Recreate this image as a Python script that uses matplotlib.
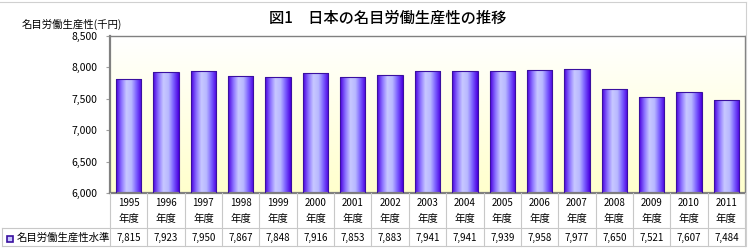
import numpy as np
import matplotlib
matplotlib.use('Agg')
import matplotlib.pyplot as plt
import matplotlib.transforms as mtransforms
from matplotlib.colors import LinearSegmentedColormap
from matplotlib.lines import Line2D
from matplotlib.patches import Rectangle

plt.rcParams['font.family'] = ['Noto Sans CJK JP', 'DejaVu Sans']

years = ['1995', '1996', '1997', '1998', '1999', '2000', '2001', '2002', '2003',
         '2004', '2005', '2006', '2007', '2008', '2009', '2010', '2011']
values = [7815, 7923, 7950, 7867, 7848, 7916, 7853, 7883, 7941,
          7941, 7939, 7958, 7977, 7650, 7521, 7607, 7484]
series_name = '名目労働生産性水準'
title = '図1　日本の名目労働生産性の推移'
ylabel = '名目労働生産性(千円)'
yticks = [6000, 6500, 7000, 7500, 8000, 8500]

W, H = 749, 252
fig = plt.figure(figsize=(W / 100, H / 100), dpi=100)

def fx(px):
    return px / W

def fy(py):
    return 1 - py / H

ax_l, ax_r, ax_t, ax_b = 110, 745, 36, 193
ax = fig.add_axes([fx(ax_l), fy(ax_b), fx(ax_r - ax_l), (ax_b - ax_t) / H])

n = len(years)
x = np.arange(n)

# background gradient (white -> pale yellow)
bg = LinearSegmentedColormap.from_list('bg', ['#ffffcc', '#ffffff'])
ax.imshow(np.linspace(0, 1, 100).reshape(-1, 1), cmap=bg, aspect='auto',
          extent=[0, 1, 0, 1], transform=ax.transAxes, origin='lower', zorder=0)

# bars with cylinder gradient
cyl = LinearSegmentedColormap.from_list(
    'cyl', ['#4a00e0', '#8a70ff', '#c8c8ff', '#b8b8ff', '#7a5cff', '#4a00e0'])
grad = np.linspace(0, 1, 64).reshape(1, -1)
bars = ax.bar(x, np.array(values) - 6000, bottom=6000, width=0.68,
              color='none', edgecolor='#3a10a0', linewidth=0.8, zorder=3)
for b in bars:
    x0, y0 = b.get_x(), b.get_y()
    im = ax.imshow(grad, cmap=cyl, aspect='auto', zorder=2,
                   extent=[x0, x0 + b.get_width(), y0, y0 + b.get_height()])
    im.set_clip_path(b)
ax.set_xlim(-0.5, n - 0.5)
ax.set_ylim(6000, 8500)

ax.set_yticks(yticks)
ax.set_yticklabels([f'{v:,}' for v in yticks], fontsize=7.5)
ax.tick_params(axis='y', length=3, width=0.8, color='#a0a0a0', pad=6)
ax.set_xticks([])
for s in ax.spines.values():
    s.set_color('#808080')
    s.set_linewidth(1.0)
ax.spines['left'].set_linewidth(1.6)
ax.spines['bottom'].set_linewidth(1.6)

# table below the plot
blend = mtransforms.blended_transform_factory(ax.transData, fig.transFigure)
for i in range(n):
    ax.text(x[i], fy(203), years[i], transform=blend, ha='center', va='center', fontsize=7)
    ax.text(x[i], fy(219), '年度', transform=blend, ha='center', va='center', fontsize=7.5)
    ax.text(x[i], fy(238), f'{values[i]:,}', transform=blend, ha='center',
            va='center', fontsize=7)
for i in range(n + 1):
    fig.add_artist(Line2D([i - 0.5, i - 0.5], [fy(ax_b), fy(246)], transform=blend,
                          color='#c8c8c8', linewidth=0.8))
fig.add_artist(Line2D([fx(2), fx(ax_r)], [fy(228), fy(228)], color='#c8c8c8', linewidth=0.8))
fig.add_artist(Line2D([fx(2), fx(ax_r)], [fy(246), fy(246)], color='#c8c8c8', linewidth=0.8))
fig.add_artist(Line2D([fx(2), fx(2)], [fy(228), fy(246)], color='#c8c8c8', linewidth=0.8))

# legend key
fig.add_artist(Rectangle((fx(7), fy(241.5)), fx(6), 6 / H, facecolor='#c8c8ff',
                         edgecolor='#3a10a0', linewidth=1.2))
fig.text(fx(17), fy(238), series_name, ha='left', va='center', fontsize=7.5)

# outer frame
fig.add_artist(Line2D([0, fx(746)], [fy(2), fy(2)], color='#d0d0d0', linewidth=0.8))
fig.add_artist(Line2D([fx(746), fx(746)], [fy(2), fy(246)], color='#d0d0d0', linewidth=0.8))

fig.text(fx(388), fy(18), title, ha='center', va='center', fontsize=11, fontweight='medium')
fig.text(fx(22), fy(24), ylabel, ha='left', va='center', fontsize=7.5)

fig.savefig('out.png', dpi=100)
